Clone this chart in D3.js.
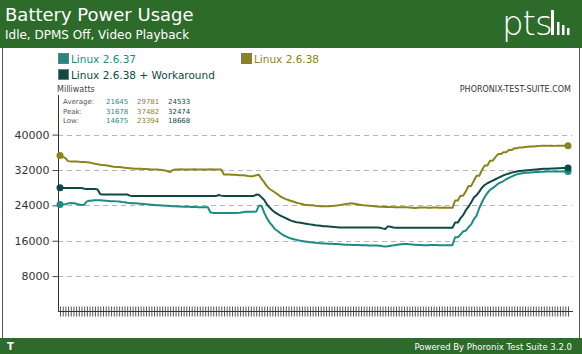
<!DOCTYPE html>
<html>
<head>
<meta charset="utf-8">
<script src="https://cdn.jsdelivr.net/npm/d3@7"></script>
<style>
  body { margin: 0; background: #fff; }
  svg text { font-family: "DejaVu Sans", sans-serif; }
</style>
</head>
<body>
<div id="chart"></div>
<script>
// ***Data***
var seriesNames = ["Linux 2.6.37", "Linux 2.6.38", "Linux 2.6.38 + Workaround"];
var statLabels = ["Average:", "Peak:", "Low:"];
var statAverage = [21645, 29781, 24533];
var statPeak = [31678, 37482, 32474];
var statLow = [14675, 23394, 18668];
var yTicks = [8000, 16000, 24000, 32000, 40000];
var yMax = 48727;

var linux2637 = [
  24200, 24200, 24250, 24450, 24550, 24500, 24400, 24200, 24100, 24150,
  24900, 25050, 25100, 25150, 25150, 25150, 25100, 25050, 25000, 24950,
  24950, 24900, 24850, 24750, 24700, 24600, 24550, 24500, 24450, 24400,
  24350, 24300, 24250, 24200, 24150, 24100, 24050, 24000, 23950, 23900,
  23900, 23850, 23800, 23800, 23750, 23750, 23700, 23700, 23700, 23650,
  23650, 23600, 23600, 23600, 23600, 23600, 22400, 22300, 22300, 22300,
  22300, 22300, 22300, 22300, 22300, 22300, 22300, 22350, 22450, 22550,
  22550, 22550, 22550, 22600, 23900, 23900, 22300, 21100, 20100, 19400,
  18600, 18200, 17700, 17300, 17000, 16700, 16500, 16350, 16200, 16050,
  15950, 15850, 15750, 15650, 15600, 15550, 15500, 15450, 15400, 15350,
  15300, 15300, 15250, 15250, 15200, 15150, 15100, 15100, 15100, 15050,
  15050, 15050, 15000, 15000, 15000, 14950, 14950, 14900, 14900, 14850,
  14750, 14675, 14750, 14850, 14950, 15050, 15150, 15200, 15250, 15250,
  15200, 15150, 15100, 15050, 15050, 15000, 15000, 15000, 15050, 15050,
  15050, 15000, 15000, 15000, 15000, 15000, 15000, 16800, 16800, 17400,
  18100, 18300, 19100, 19700, 20900, 21700, 23400, 24700, 25900, 26800,
  27500, 27900, 28400, 28900, 29200, 29500, 29900, 30200, 30500, 30800,
  31000, 31150, 31250, 31350, 31400, 31450, 31500, 31550, 31550, 31600,
  31600, 31650, 31650, 31650, 31678, 31650, 31678, 31678, 31678, 31678
];

var linux2638 = [
  35300, 35000, 34700, 34000, 33900, 33900, 33900, 33850, 33800, 33800,
  33750, 33700, 33550, 33400, 33300, 33200, 33100, 33050, 32950, 32850,
  32750, 32700, 32650, 32600, 32500, 32450, 32400, 32350, 32300, 32250,
  32250, 32200, 32200, 32150, 32100, 32100, 32100, 32050, 32000, 31900,
  31700, 31550, 32000, 32100, 32100, 32150, 32100, 32100, 32100, 32100,
  32150, 32100, 32100, 32100, 32100, 32100, 32150, 32100, 32100, 32100,
  32100, 31000, 31000, 30950, 30900, 30900, 30850, 30800, 30800, 30750,
  30650, 30600, 30650, 30800, 30900, 30000, 29200, 28300, 27700, 27300,
  26900, 26500, 26000, 25700, 25400, 25200, 25000, 24800, 24600, 24450,
  24300, 24150, 24100, 24050, 24000, 23900, 23850, 23800, 23800, 23800,
  23800, 23850, 23900, 23950, 24050, 24150, 24250, 24350, 24450, 24400,
  24300, 24200, 24100, 24000, 23950, 23900, 23850, 23800, 23750, 23700,
  23700, 23650, 23650, 23650, 23600, 23600, 23600, 23600, 23600, 23550,
  23500, 23450, 23394, 23450, 23500, 23500, 23500, 23450, 23450, 23500,
  23500, 23450, 23450, 23500, 23450, 23450, 23450, 25100, 25100, 26200,
  26200, 27200, 28400, 28400, 29600, 30700, 30700, 32000, 33000, 33000,
  34100, 34100, 34900, 35600, 35600, 36000, 36000, 36500, 36500, 36900,
  36900, 37100, 37100, 37200, 37250, 37300, 37300, 37350, 37400, 37450,
  37450, 37450, 37482, 37482, 37450, 37482, 37482, 37482, 37482, 37482
];

var linux2638w = [
  28000, 27950, 27950, 27950, 27950, 27950, 27950, 27950, 27950, 27750,
  27700, 27700, 27700, 27700, 27600, 26500, 26450, 26450, 26450, 26450,
  26450, 26450, 26450, 26450, 26450, 26450, 26200, 26100, 26100, 26100,
  26100, 26100, 26100, 26100, 26100, 26100, 26100, 26100, 26100, 26100,
  26100, 26100, 26100, 26100, 26100, 26100, 26100, 26100, 26100, 26100,
  26100, 26100, 26100, 26100, 26100, 26100, 26100, 26100, 26100, 26350,
  26200, 26100, 26100, 26100, 26100, 26100, 26100, 26100, 26100, 26100,
  26100, 26100, 26100, 26450, 26400, 25800, 25200, 24200, 23500, 22900,
  22400, 22000, 21700, 21400, 21100, 20800, 20550, 20350, 20200, 20100,
  20000, 19900, 19800, 19700, 19600, 19500, 19450, 19400, 19300, 19250,
  19200, 19150, 19100, 19050, 19000, 19000, 19000, 19000, 19000, 19000,
  19000, 19000, 19000, 19000, 19000, 19000, 19000, 19000, 19000, 18950,
  18800, 18668, 19250, 19150, 19000, 18950, 18950, 18950, 18950, 18950,
  18950, 18950, 18950, 18950, 18950, 18950, 18950, 18950, 18950, 18950,
  18950, 18950, 18950, 18950, 18950, 18950, 18950, 20100, 20100, 21100,
  21800, 22900, 23700, 24700, 25800, 26300, 27100, 28000, 28600, 29000,
  29300, 29600, 29900, 30200, 30500, 30800, 31000, 31200, 31400, 31550,
  31650, 31750, 31850, 31900, 31950, 32000, 32050, 32100, 32150, 32200,
  32250, 32300, 32300, 32350, 32350, 32400, 32400, 32450, 32450, 32474
];

var colors = ["#1c8b83", "#8a841a", "#0e4a45"];

function init() {
	var w = 582;
	var h = 354;
	var green = "#2d6b2b";
	var allSeries = [linux2637, linux2638, linux2638w];

	var svg = d3.select("#chart")
				.append("svg")
				.attr("width", w)
				.attr("height", h);

	svg.append("rect").attr("width", w).attr("height", h).attr("fill", "#fff");

	// frame
	svg.append("rect")
		.attr("x", 2.5).attr("y", 0.5)
		.attr("width", w - 5).attr("height", h - 1)
		.attr("fill", "none").attr("stroke", "#555");

	// header
	svg.append("rect").attr("x", 0).attr("y", 0).attr("width", w).attr("height", 48).attr("fill", green);
	svg.append("text").attr("x", 5).attr("y", 21).attr("fill", "#fff")
		.style("font-size", "18px").text("Battery Power Usage");
	svg.append("text").attr("x", 5).attr("y", 39).attr("fill", "#fff")
		.style("font-size", "12px").text("Idle, DPMS Off, Video Playback");

	// logo
	var logo = svg.append("g").attr("fill", "#fff");
	logo.append("text").attr("x", 502).attr("y", 35)
		.style("font-size", "34px").style("font-weight", "300").style("letter-spacing", "-1px")
		.text("pts");
	logo.append("rect").attr("x", 551).attr("y", 10).attr("width", 3).attr("height", 25);
	logo.append("rect").attr("x", 557).attr("y", 22).attr("width", 2.5).attr("height", 13);
	logo.append("rect").attr("x", 562).attr("y", 25).attr("width", 2.5).attr("height", 10);
	logo.append("rect").attr("x", 567).attr("y", 28).attr("width", 2.5).attr("height", 7);

	// footer
	svg.append("rect").attr("x", 0).attr("y", 338).attr("width", w).attr("height", 16).attr("fill", green);
	svg.append("text").attr("x", 7).attr("y", 350).attr("fill", "#fff")
		.style("font-size", "10px").style("font-weight", "bold").text("T");
	svg.append("text").attr("x", 572).attr("y", 350).attr("fill", "#fff")
		.attr("text-anchor", "end").style("font-size", "8.5px")
		.text("Powered By Phoronix Test Suite 3.2.0");

	// legend
	var legendPos = [[58, 53], [241, 53], [58, 69]];
	seriesNames.forEach(function(name, i) {
		svg.append("rect")
			.attr("x", legendPos[i][0] + 0.5).attr("y", legendPos[i][1] + 0.5)
			.attr("width", 10).attr("height", 10)
			.attr("fill", colors[i]).attr("stroke", "#777");
		svg.append("text")
			.attr("x", legendPos[i][0] + 13).attr("y", legendPos[i][1] + 9.5)
			.attr("fill", colors[i]).style("font-size", "10.5px")
			.text(name);
	});

	svg.append("text").attr("x", 571).attr("y", 92).attr("text-anchor", "end")
		.attr("fill", "#333").style("font-size", "8px").text("PHORONIX-TEST-SUITE.COM");

	// stats box
	svg.append("text").attr("x", 57).attr("y", 92).attr("fill", "#444")
		.style("font-size", "8px").text("Milliwatts");
	var statRows = [statAverage, statPeak, statLow];
	var statX = [106, 137, 168];
	statLabels.forEach(function(lab, r) {
		var yy = 104 + r * 9.7;
		svg.append("text").attr("x", 63).attr("y", yy).attr("fill", "#555")
			.style("font-size", "7px").text(lab);
		statRows[r].forEach(function(v, s) {
			svg.append("text").attr("x", statX[s]).attr("y", yy)
				.attr("fill", colors[s]).style("font-size", "7px").text(v);
		});
	});

	// scales
	var xScale = d3.scaleLinear()
				.domain([0, linux2637.length - 1])
				.range([60, 568]);
	var yScale = d3.scaleLinear()
				.domain([0, yMax])
				.range([311.5, 96]);

	// grid
	svg.append("g")
		.selectAll("line")
		.data(yTicks)
		.enter()
		.append("line")
		.attr("x1", 58).attr("x2", 572)
		.attr("y1", function(d) { return Math.round(yScale(d)) + 0.5; })
		.attr("y2", function(d) { return Math.round(yScale(d)) + 0.5; })
		.attr("stroke", "#b5b5b5")
		.attr("stroke-dasharray", "5,4");

	var yAxis = d3.axisLeft(yScale).tickValues(yTicks).tickSize(6).tickPadding(3)
		.tickFormat(d3.format("d"));
	var gy = svg.append("g")
		.attr("transform", "translate(58.5,0)")
		.call(yAxis);
	gy.select(".domain").remove();
	gy.selectAll("line").attr("stroke", "#444");
	gy.selectAll("text").attr("fill", "#333").style("font-size", "11px")
		.style("font-family", "DejaVu Sans, sans-serif");

	var xAxis = d3.axisBottom(xScale)
		.tickValues(d3.range(linux2637.length))
		.tickSize(10)
		.tickFormat("");
	var gx = svg.append("g")
		.attr("transform", "translate(0,306.5)")
		.call(xAxis);
	gx.select(".domain").remove();
	gx.selectAll("line").attr("stroke", "#555");

	svg.append("line").attr("x1", 58.5).attr("x2", 58.5).attr("y1", 95).attr("y2", 312)
		.attr("stroke", "#333");
	svg.append("line").attr("x1", 58).attr("x2", 573).attr("y1", 311.5).attr("y2", 311.5)
		.attr("stroke", "#333");

	// lines
	var line = d3.line()
		.x(function(d, i) { return xScale(i); })
		.y(function(d) { return yScale(d); });

	allSeries.forEach(function(s, k) {
		svg.append("path")
			.datum(s)
			.attr("d", line)
			.attr("fill", "none")
			.attr("stroke", colors[k])
			.attr("stroke-width", 2)
			.attr("stroke-linejoin", "round");
	});

	allSeries.forEach(function(s, k) {
		svg.selectAll(null)
			.data([0, s.length - 1])
			.enter()
			.append("circle")
			.attr("cx", function(i) { return xScale(i); })
			.attr("cy", function(i) { return yScale(s[i]); })
			.attr("r", 3.5)
			.attr("fill", colors[k]);
	});
}

window.onload = init;
</script>
</body>
</html>
